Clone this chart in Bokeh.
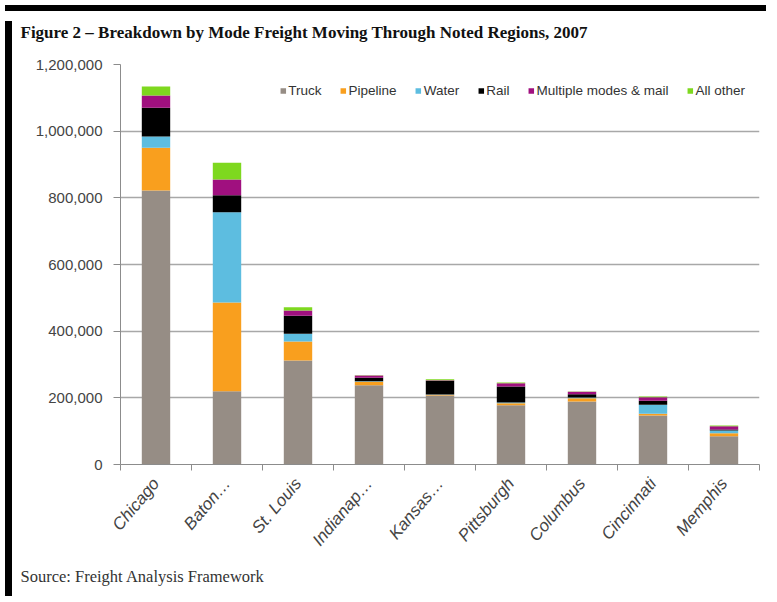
import math
from bokeh.plotting import figure
from bokeh.models import (ColumnDataSource, FixedTicker, NumeralTickFormatter,
                          Title, Div, Range1d)
from bokeh.layouts import column, row
from bokeh.embed import file_html
from bokeh.resources import INLINE

# ---- data ----
cities = ["Chicago", "Baton…", "St. Louis", "Indianap…", "Kansas…",
          "Pittsburgh", "Columbus", "Cincinnati", "Memphis"]
modes = ["Truck", "Pipeline", "Water", "Rail", "Multiple modes & mail", "All other"]
truck    = [822000, 220000, 312000, 238000, 207000, 178000, 189000, 147000, 85000]
pipeline = [128000, 266000,  57000,  10000,   2000,   6000,  10000,   5000,  9000]
water    = [ 34000, 271000,  23000,   2000,   1000,   2000,   2000,  27000,  8000]
rail     = [ 86000,  51000,  54000,  10000,  41000,  48000,  10000,  12000,  3000]
multi    = [ 37000,  47000,  16000,   7000,   2000,  10000,   7000,  11000, 10000]
other    = [ 27000,  50000,  10000,   1000,   3000,   2000,   1000,   2000,  2000]
y_ticks  = [0, 200000, 400000, 600000, 800000, 1000000, 1200000]
title_text = "Figure 2 – Breakdown by Mode Freight Moving Through Noted Regions, 2007"
source_text = "Source: Freight Analysis Framework"

colors = ["#968d85", "#f99f1e", "#5dbde0", "#000000", "#a0107f", "#7ed81f"]

# category slots on a numeric axis (centres at i + 0.5, boundaries at integers)
centres = [i + 0.5 for i in range(len(cities))]
bounds = [i for i in range(len(cities) + 1)]

src = ColumnDataSource(dict(x=centres, Truck=truck, Pipeline=pipeline, Water=water,
                            Rail=rail, Multi=multi, Other=other))
keys = ["Truck", "Pipeline", "Water", "Rail", "Multi", "Other"]

FIG_H = 575
p = figure(width=754, height=FIG_H, output_backend="svg", toolbar_location=None,
           x_range=Range1d(0, len(cities)), y_range=Range1d(0, 1200000),
           min_border_left=103, min_border_right=12, min_border_top=48,
           min_border_bottom=125, background_fill_color="white",
           border_fill_color="white")
p.outline_line_color = None

rs = p.vbar_stack(keys, x="x", width=0.4, source=src, color=colors,
                  line_color=None, legend_label=modes)

# title (a tiny blank spacer title sits between it and the frame)
p.title.text = title_text
p.title.align = "left"
p.title.offset = -100
p.title.text_font = "Liberation Serif"
p.title.text_font_size = "17px"
p.title.text_font_style = "bold"
p.title.text_color = "#111111"
p.title.standoff = 0

p.add_layout(Title(text=" ", text_font_size="1px", standoff=20), "above")

p.add_layout(Title(text=source_text, align="left", offset=-100,
                   text_font="Liberation Serif", text_font_size="16.5px",
                   text_font_style="normal", text_color="#333333", standoff=12),
             "below")

# y axis
p.yaxis.ticker = FixedTicker(ticks=y_ticks)
p.yaxis.formatter = NumeralTickFormatter(format="0,0")
p.yaxis.axis_line_color = "#8c8c8c"
p.yaxis.major_tick_line_color = "#8c8c8c"
p.yaxis.major_tick_out = 7
p.yaxis.major_tick_in = 0
p.yaxis.minor_tick_line_color = None
p.yaxis.major_label_text_font = "Liberation Sans"
p.yaxis.major_label_text_font_size = "15px"
p.yaxis.major_label_text_color = "#444444"
p.yaxis.major_label_standoff = 11

# x axis
p.xaxis.ticker = FixedTicker(ticks=centres, minor_ticks=bounds)
p.xaxis.major_label_overrides = {c: lab for c, lab in zip(centres, cities)}
p.xaxis.major_tick_line_color = None
p.xaxis.minor_tick_line_color = "#8c8c8c"
p.xaxis.minor_tick_out = 6
p.xaxis.minor_tick_in = 0
p.xaxis.axis_line_color = "#8c8c8c"
p.xaxis.major_label_orientation = 0.87
p.xaxis.major_label_text_font = "Liberation Sans"
p.xaxis.major_label_text_font_size = "17px"
p.xaxis.major_label_text_font_style = "italic"
p.xaxis.major_label_text_color = "#444444"
p.xaxis.major_label_standoff = 10

# grid
p.xgrid.grid_line_color = None
p.ygrid.ticker = FixedTicker(ticks=y_ticks)
p.ygrid.grid_line_color = "#a8a8a8"
p.ygrid.grid_line_width = 1.5

# legend
lg = p.legend[0]
lg.orientation = "horizontal"
lg.location = "top_right"
lg.margin = 14
lg.padding = 4
lg.spacing = 18
lg.glyph_width = 7
lg.glyph_height = 7
lg.label_standoff = 2
lg.label_height = 24
lg.label_text_font = "Liberation Sans"
lg.label_text_font_size = "13.5px"
lg.label_text_color = "#333333"
lg.border_line_color = None
lg.background_fill_alpha = 0

top_bar = Div(width=761, height=6, styles={"background-color": "black"})
left_bar = Div(width=7, height=FIG_H, styles={"background-color": "black"})
bottom_bar = Div(width=761, height=5, styles={"background-color": "black"})

layout = column(top_bar, row(left_bar, p, spacing=0), bottom_bar, spacing=0)

open("out.html", "w").write(file_html(layout, INLINE))
